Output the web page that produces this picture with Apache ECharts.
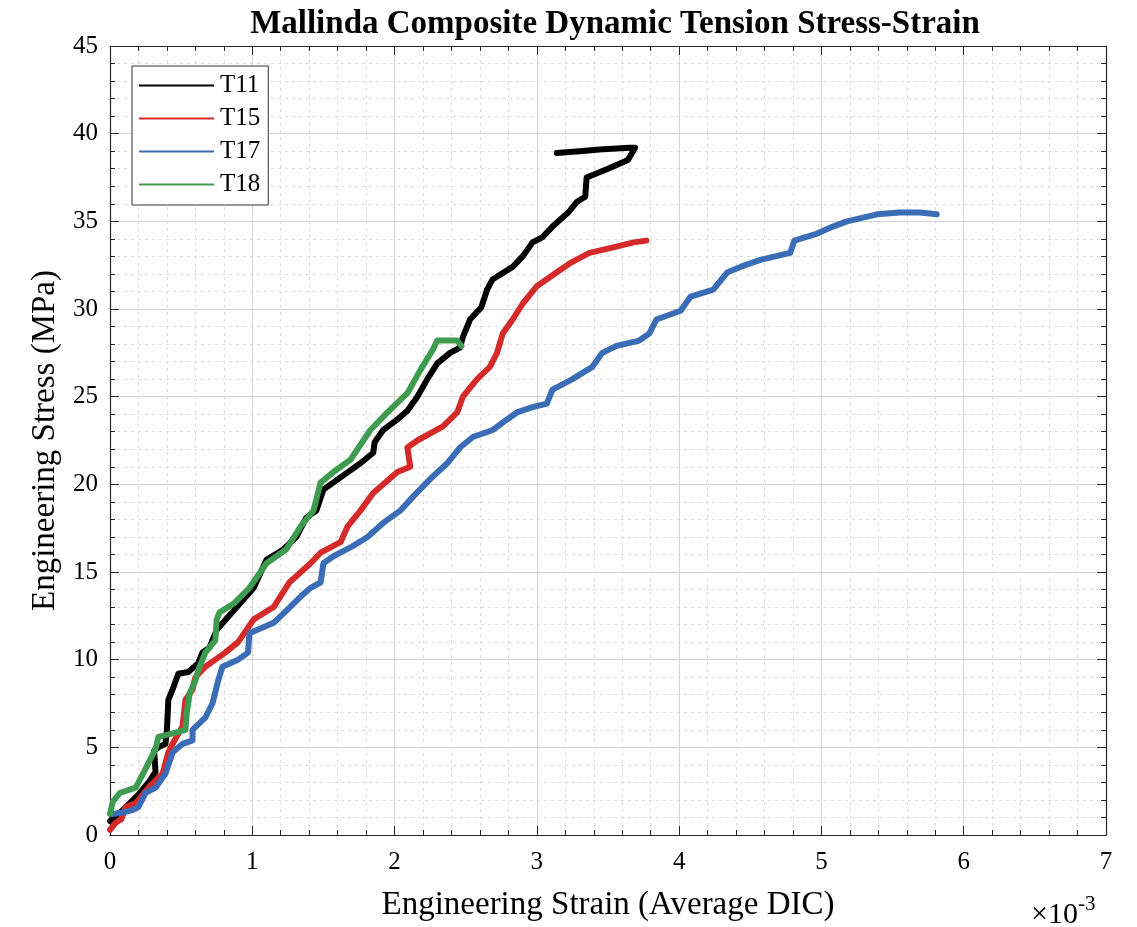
<!DOCTYPE html>
<html>
<head>
<meta charset="utf-8">
<script src="https://cdn.jsdelivr.net/npm/echarts@6/dist/echarts.min.js"></script>
<style>
html,body{margin:0;padding:0;background:#fff;}
#chart{width:1137px;height:927px;}
</style>
</head>
<body>
<div id="chart"></div>
<script>
// Strain values in units of 1e-3 (axis shows ×10^-3), stress in MPa
const t11Strain = [0,0.1,0.2,0.28,0.32,0.31,0.34,0.39,0.40,0.41,0.44,0.48,0.55,0.62,0.65,0.70,0.75,0.87,1.01,1.10,1.22,1.31,1.38,1.45,1.50,1.62,1.76,1.85,1.86,1.92,2.02,2.09,2.16,2.23,2.30,2.39,2.46,2.48,2.53,2.61,2.65,2.69,2.83,2.90,2.97,3.04,3.11,3.22,3.28,3.34,3.35,3.50,3.64,3.69,3.65,3.44,3.30,3.14];
const t11Stress = [0.8,1.5,2.3,3.1,3.6,4.8,5.0,5.2,6.0,7.7,8.3,9.2,9.3,9.8,10.4,10.7,11.7,12.8,14.1,15.7,16.3,17.0,18.1,18.5,19.7,20.4,21.2,21.8,22.4,23.1,23.7,24.2,25.0,26.0,26.9,27.5,27.8,28.4,29.4,30.1,31.1,31.7,32.4,33.0,33.8,34.1,34.7,35.5,36.1,36.4,37.5,38.0,38.5,39.2,39.2,39.1,39.0,38.9];

const t15Strain = [0,0.04,0.08,0.11,0.18,0.22,0.27,0.37,0.41,0.44,0.51,0.53,0.58,0.60,0.67,0.74,0.81,0.90,1.01,1.15,1.26,1.41,1.48,1.62,1.67,1.76,1.85,2.02,2.11,2.09,2.16,2.34,2.44,2.48,2.58,2.67,2.72,2.76,2.83,2.90,3.00,3.14,3.23,3.37,3.53,3.68,3.77];
const t15Stress = [0.3,0.7,0.9,1.6,1.8,2.2,2.7,3.5,4.7,5.2,6.2,7.7,8.3,9.0,9.6,10.0,10.4,11.0,12.3,13.0,14.4,15.5,16.1,16.7,17.6,18.5,19.5,20.7,21.0,22.1,22.5,23.3,24.1,25.0,26.0,26.7,27.5,28.6,29.4,30.3,31.3,32.1,32.6,33.2,33.5,33.8,33.9];

const t17Strain = [0.02,0.10,0.15,0.20,0.25,0.32,0.39,0.44,0.51,0.58,0.58,0.67,0.72,0.76,0.79,0.90,0.97,0.98,1.15,1.24,1.34,1.41,1.48,1.50,1.57,1.69,1.81,1.92,2.04,2.13,2.25,2.37,2.46,2.55,2.69,2.79,2.86,2.97,3.07,3.11,3.25,3.39,3.46,3.56,3.72,3.79,3.84,4.01,4.08,4.24,4.34,4.43,4.57,4.78,4.81,4.97,5.08,5.18,5.39,5.55,5.69,5.81];
const t17Stress = [1.2,1.3,1.4,1.6,2.4,2.7,3.5,4.7,5.2,5.4,6.0,6.7,7.5,8.8,9.6,10.0,10.4,11.5,12.1,12.8,13.6,14.1,14.4,15.5,15.9,16.4,17.0,17.8,18.5,19.3,20.3,21.2,22.1,22.7,23.1,23.7,24.1,24.4,24.6,25.4,26.0,26.7,27.5,27.9,28.2,28.6,29.4,29.9,30.7,31.1,32.1,32.4,32.8,33.2,33.9,34.3,34.7,35.0,35.4,35.5,35.5,35.4];

const t18Strain = [0,0.02,0.07,0.18,0.22,0.27,0.32,0.34,0.44,0.53,0.54,0.56,0.60,0.62,0.67,0.74,0.75,0.77,0.87,0.98,1.10,1.24,1.34,1.43,1.48,1.57,1.69,1.83,1.95,2.09,2.18,2.27,2.30,2.37,2.44,2.47];
const t18Stress = [1.2,1.9,2.4,2.7,3.3,4.1,4.9,5.6,5.8,6.0,7.0,8.1,8.8,9.4,10.4,11.1,12.3,12.7,13.2,14.1,15.5,16.3,17.6,18.5,20.1,20.7,21.4,23.1,24.1,25.2,26.5,27.7,28.2,28.2,28.2,27.9];

const seriesNames = ['T11','T15','T17','T18'];
const seriesColors = ['#000000','#D42A2A','#3A6DB5','#3F9B50'];
const xTickMin = 0, xTickMax = 7, xTickStep = 1;
const yTickMin = 0, yTickMax = 45, yTickStep = 5;

const serif = '"Liberation Serif","DejaVu Serif",serif';
const zip = (a,b) => a.map((v,i)=>[v,b[i]]);
const allData = [zip(t11Strain,t11Stress), zip(t15Strain,t15Stress), zip(t17Strain,t17Stress), zip(t18Strain,t18Stress)];

const chart = echarts.init(document.getElementById('chart'), null, {renderer:'canvas'});

const axisLineColor = '#262626';
function baseAxis(extra){
  return Object.assign({
    type:'value',
    axisLine:{show:true,onZero:false,lineStyle:{color:axisLineColor,width:1.2}},
    axisTick:{show:true,inside:true,length:9,lineStyle:{color:axisLineColor,width:1}},
    minorTick:{show:true,splitNumber:5,length:5,lineStyle:{color:axisLineColor,width:1}},
    splitLine:{show:false},
    minorSplitLine:{show:false}
  }, extra);
}

const option = {
  animation:false,
  backgroundColor:'#fff',
  title:{
    text:'Mallinda Composite Dynamic Tension Stress-Strain',
    left:610, top:3, textAlign:'center',
    textStyle:{fontFamily:serif,fontWeight:'bold',fontSize:33,color:'#000'}
  },
  grid:{left:110,right:31,top:46,bottom:92,containLabel:false},
  legend:{
    orient:'vertical',
    left:132, top:66,
    data:seriesNames,
    icon:'rect',
    itemWidth:75, itemHeight:2,
    itemGap:8,
    padding:[7,8,8,7],
    borderColor:'#333', borderWidth:1,
    backgroundColor:'#fff',
    textStyle:{fontFamily:serif,fontSize:25,color:'#000',lineHeight:25,padding:[0,0,0,1]}
  },
  xAxis:[
    baseAxis({
      min:xTickMin,max:xTickMax,interval:xTickStep,position:'bottom',
      axisLabel:{show:true,fontFamily:serif,fontSize:25,color:'#000',margin:15},
      name:'Engineering Strain (Average DIC)',nameLocation:'middle',nameGap:54,
      nameTextStyle:{fontFamily:serif,fontSize:33,color:'#000'},
      splitLine:{show:true,lineStyle:{color:'#d4d4d4',width:1}},
      minorSplitLine:{show:true,lineStyle:{color:'#dcdcdc',width:1,type:[3,4]}}
    }),
    baseAxis({min:xTickMin,max:xTickMax,interval:xTickStep,position:'top',axisLabel:{show:false}})
  ],
  yAxis:[
    baseAxis({
      min:yTickMin,max:yTickMax,interval:yTickStep,position:'left',
      axisLabel:{show:true,fontFamily:serif,fontSize:25,color:'#000',margin:12},
      name:'Engineering Stress (MPa)',nameLocation:'middle',nameGap:48,
      nameTextStyle:{fontFamily:serif,fontSize:33,color:'#000'},
      splitLine:{show:true,lineStyle:{color:'#d4d4d4',width:1}},
      minorSplitLine:{show:true,lineStyle:{color:'#dcdcdc',width:1,type:[3,4]}}
    }),
    baseAxis({min:yTickMin,max:yTickMax,interval:yTickStep,position:'right',axisLabel:{show:false}})
  ],
  series: seriesNames.map((n,i)=>({
    name:n, type:'line', xAxisIndex:0, yAxisIndex:0,
    data:allData[i],
    showSymbol:false, symbol:'none',
    lineStyle:{color:seriesColors[i],width:6,join:'round',cap:'round'},
    itemStyle:{color:seriesColors[i]},
    z:2+i
  })),
  graphic:[{
    type:'text',
    left:1031, top:894,
    style:{
      text:'{a|×10}{b|-3}',
      rich:{
        a:{fontFamily:serif,fontSize:30,color:'#000',verticalAlign:'bottom'},
        b:{fontFamily:serif,fontSize:21,color:'#000',padding:[0,0,15,0],verticalAlign:'bottom'}
      }
    }
  }]
};
chart.setOption(option);
</script>
</body>
</html>
